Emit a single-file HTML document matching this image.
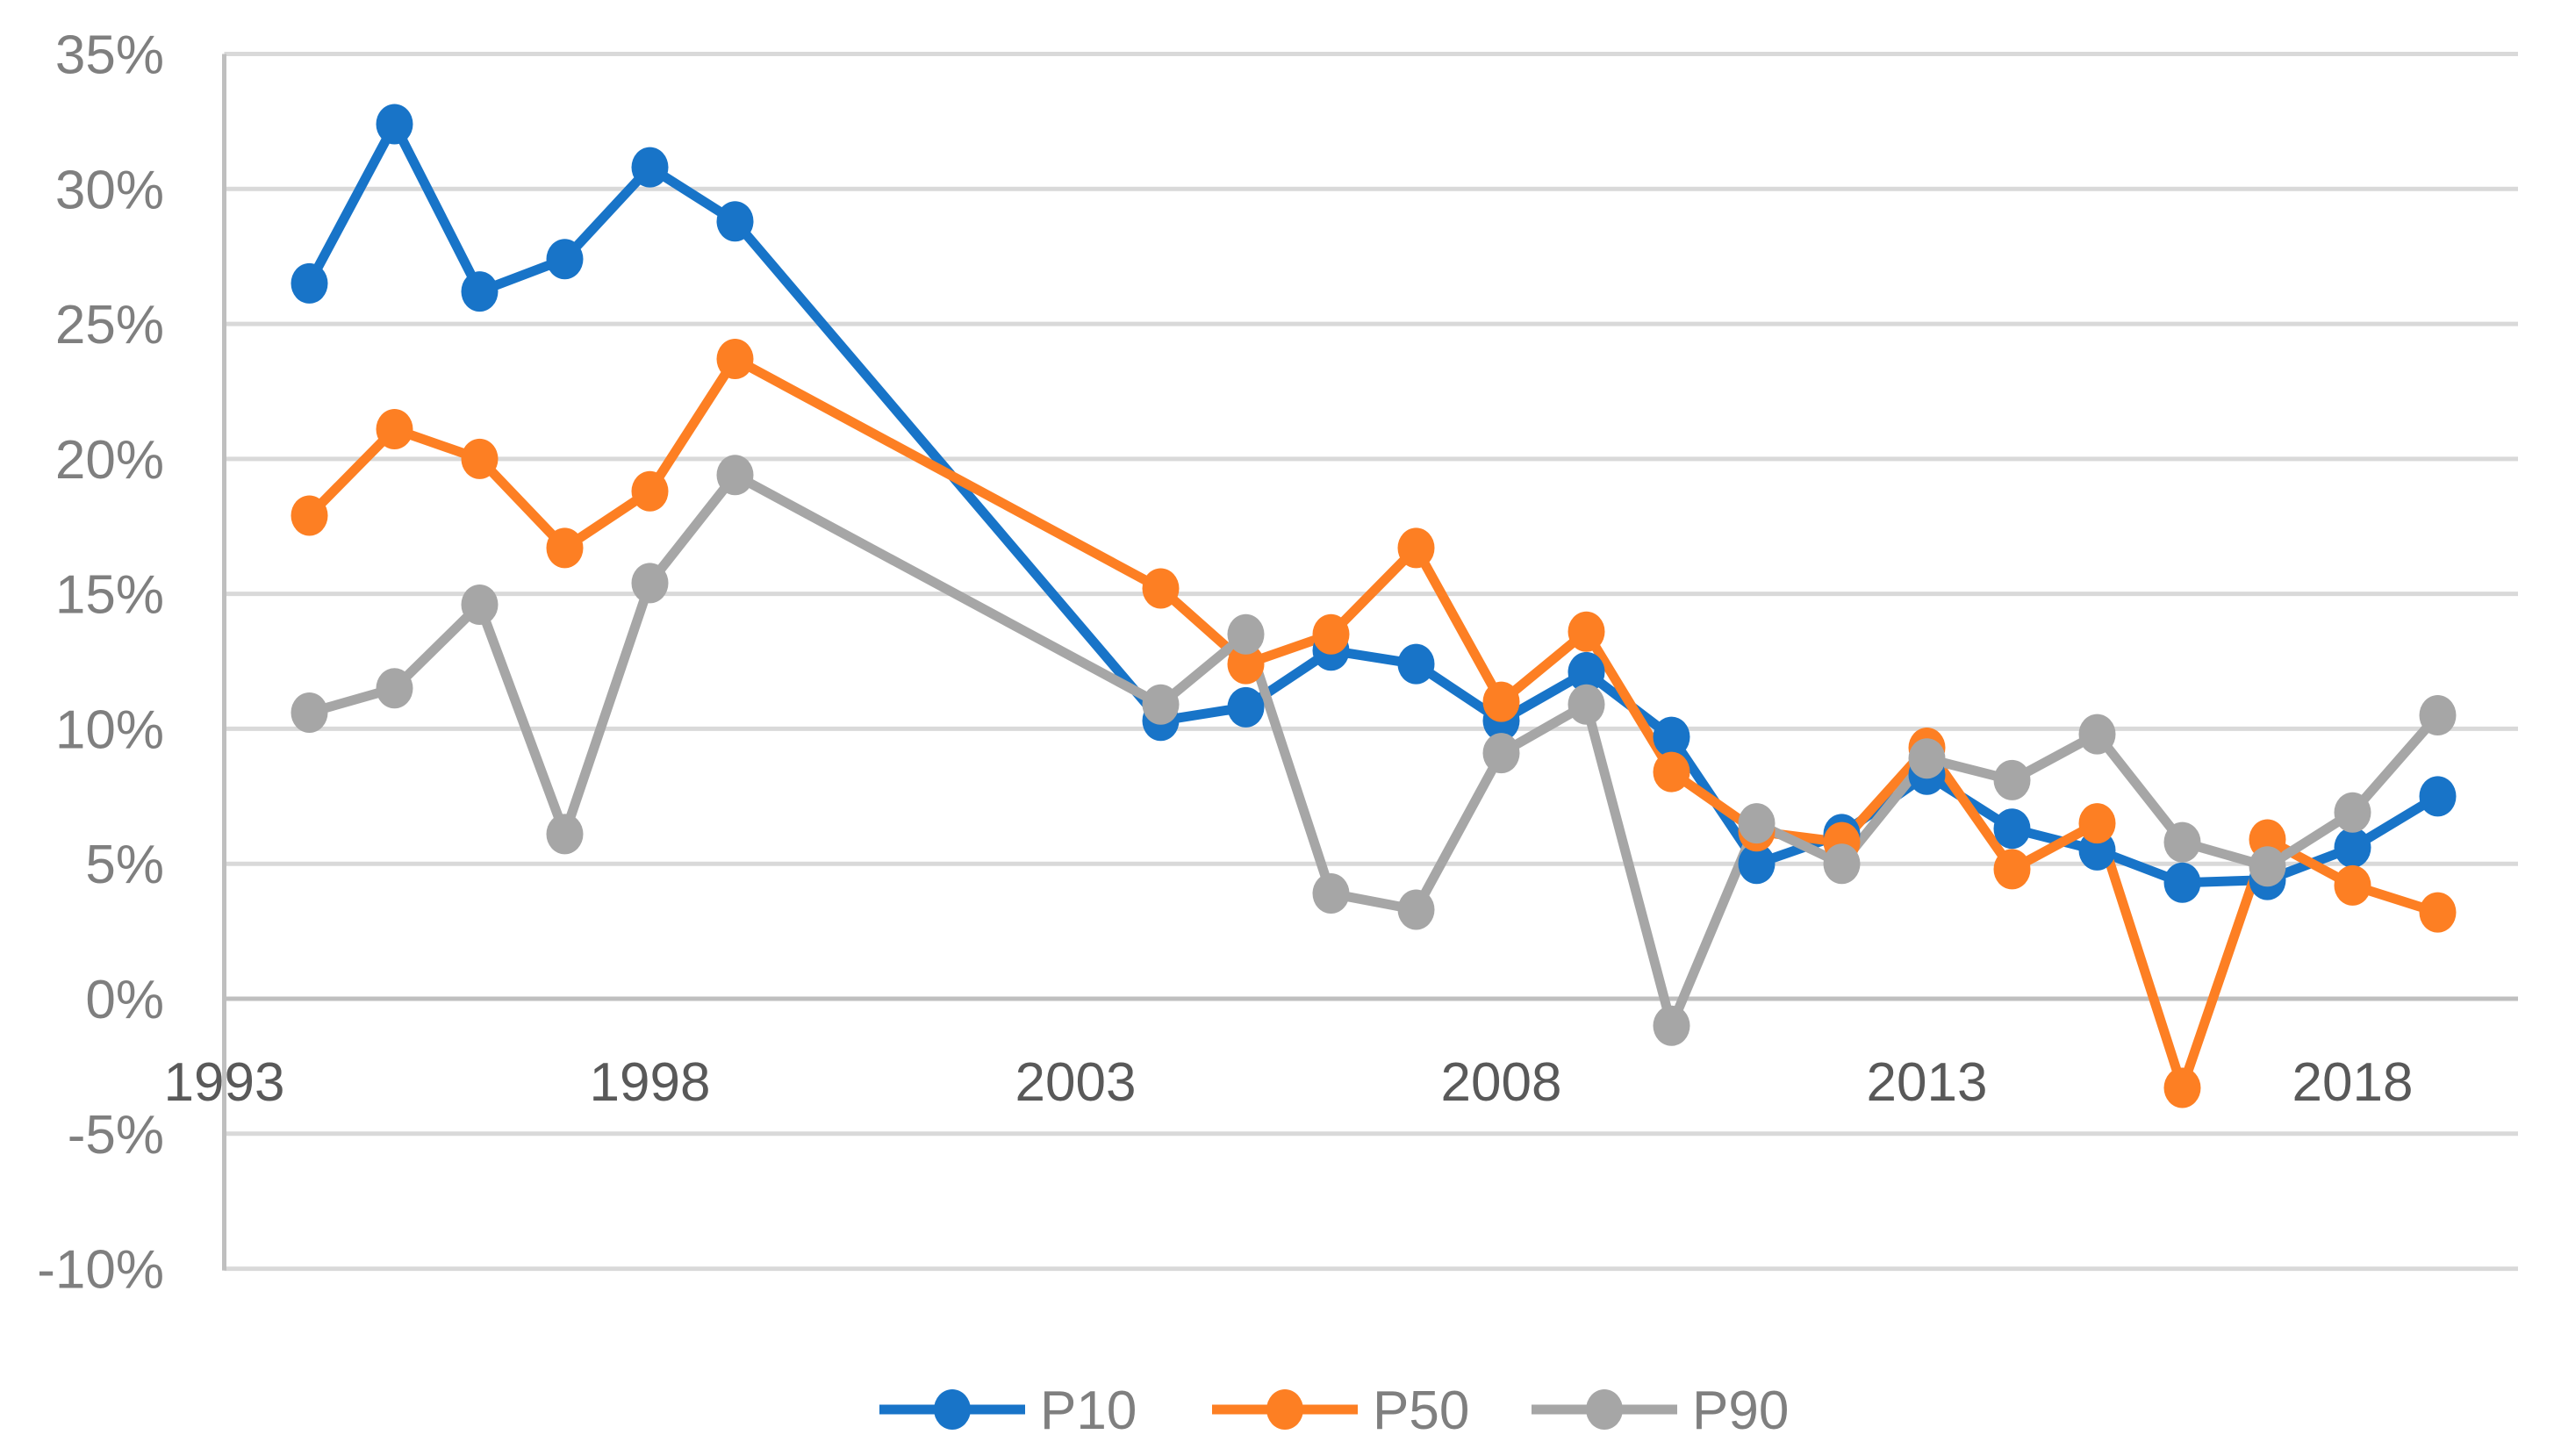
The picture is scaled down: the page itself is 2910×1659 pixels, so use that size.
<!DOCTYPE html>
<html><head><meta charset="utf-8"><style>
html,body{margin:0;padding:0;background:#fff;}
svg{display:block;font-family:"Liberation Sans Narrow","Liberation Sans",sans-serif;}
</style></head><body>
<svg id="chart" width="2910" height="1659" viewBox="0 0 2910 1659" xmlns="http://www.w3.org/2000/svg"></svg>
<script>
const years=[1994,1995,1996,1997,1998,1999,2004,2005,2006,2007,2008,2009,2010,2011,2012,2013,2014,2015,2016,2017,2018,2019];
const p10=[26.5,32.4,26.2,27.4,30.8,28.8,10.3,10.8,12.9,12.4,10.3,12.1,9.7,5.0,6.1,8.3,6.3,5.5,4.3,4.4,5.6,7.5];
const p50=[17.9,21.1,20.0,16.7,18.8,23.7,15.2,12.4,13.5,16.7,11.0,13.6,8.4,6.2,5.8,9.3,4.8,6.5,-3.3,5.9,4.2,3.2];
const p90=[10.6,11.5,14.6,6.1,15.4,19.4,10.9,13.5,3.9,3.3,9.1,10.9,-1.0,6.5,5.0,8.9,8.1,9.8,5.8,4.9,6.9,10.5];
const yTicks=[35,30,25,20,15,10,5,0,-5,-10];
const xTicks=[1993,1998,2003,2008,2013,2018];
const seriesNames=["P10","P50","P90"];
const seriesColors=["#1874c8","#fd7f23","#a6a6a6"];

const NS="http://www.w3.org/2000/svg";
const svg=document.getElementById('chart');
const L=255.5,R=2869,Y35=61.5,Y0=1138;
const yS=v=>Y0-(v/35)*(Y0-Y35);
const xS=yr=>L+(yr-1993)*97;
function mk(t,a){const e=document.createElementNS(NS,t);for(const k in a)e.setAttribute(k,a[k]);svg.appendChild(e);return e;}

yTicks.forEach(v=>{
  const g=mk('line',{x1:L,x2:R,y1:yS(v),y2:yS(v),stroke:v===0?'#bfbfbf':'#d9d9d9','stroke-width':5});
  
  
  const t=mk('text',{x:187,y:yS(v)+22,'text-anchor':'end','font-size':62,fill:'#7f7f7f'});
  t.textContent=v+'%';
  
  
});
const ax=mk('line',{x1:L,x2:L,y1:Y35,y2:yS(-10)+2,stroke:'#bfbfbf','stroke-width':5});


xTicks.forEach(yr=>{
  const t=mk('text',{x:xS(yr),y:1254,'text-anchor':'middle','font-size':62,fill:'#595959'});
  t.textContent=yr;
  
  
});
[p10,p50,p90].forEach((d,i)=>{
  const pts=d.map((v,j)=>xS(years[j])+','+yS(v)).join(' ');
  const pl=mk('polyline',{points:pts,fill:'none',stroke:seriesColors[i],'stroke-width':11,'stroke-linejoin':'round'});
  
  
});
[p10,p50,p90].forEach((d,i)=>{
  d.forEach((v,j)=>{
    const c=mk('ellipse',{cx:xS(years[j]),cy:yS(v),rx:21,ry:23,fill:seriesColors[i]});
    
    
  });
});
const legX=[1002,1381,1745];
seriesNames.forEach((n,i)=>{
  const x=legX[i];
  const l=mk('line',{x1:x,x2:x+166,y1:1606,y2:1606,stroke:seriesColors[i],'stroke-width':11});
  
  
  const c=mk('ellipse',{cx:x+83,cy:1606,rx:21,ry:23,fill:seriesColors[i]});
  
  
  const t=mk('text',{x:x+183,y:1628,'font-size':62,fill:'#7f7f7f'});
  t.textContent=n;
  
  
});
</script>
</body></html>
